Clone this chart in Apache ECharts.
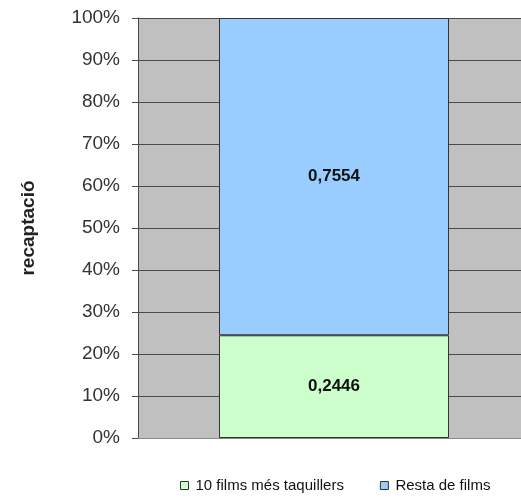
<!DOCTYPE html>
<html><head><meta charset="utf-8">
<script src="https://cdn.jsdelivr.net/npm/echarts@6/dist/echarts.min.js"></script>
<style>html,body{margin:0;padding:0;background:#fff}#c{width:521px;height:502px}</style>
</head><body><div id="c"></div>
<script>
const categories = [''];
const seriesNames = ['10 films més taquillers', 'Resta de films'];
const topFilms = [0.2446];
const restFilms = [0.7554];
const yTicks = [0, 0.1, 0.2, 0.3, 0.4, 0.5, 0.6, 0.7, 0.8, 0.9, 1];

const chart = echarts.init(document.getElementById('c'));
const lbl = {show: true, position: 'inside', color: '#111', fontWeight: 'bold', fontSize: 17,
  fontFamily: 'Arial, Liberation Sans', formatter: p => String(p.value).replace('.', ',')};
chart.setOption({
  animation: false,
  backgroundColor: '#fff',
  grid: {left: 138, top: 18, bottom: 64, width: 392, outerBoundsMode: 'none', containLabel: false,
    backgroundColor: '#C0C0C0', show: true, borderWidth: 0},
  legend: {
    bottom: 4, left: 175, itemWidth: 8, itemHeight: 8, itemGap: 36,
    textStyle: {fontSize: 15, color: '#111', fontFamily: 'Arial, Liberation Sans', padding: [0, 0, 0, 2]},
    data: seriesNames.map(n => ({name: n, icon: 'rect', itemStyle: {borderColor: '#333', borderWidth: 1}}))
  },
  xAxis: {type: 'category', data: categories, axisLine: {lineStyle: {color: '#888'}}, axisTick: {show: false}, axisLabel: {show: false}},
  yAxis: {
    type: 'value', min: 0, max: 1, interval: 0.1,
    name: 'recaptació', nameLocation: 'middle', nameGap: 100,
    nameTextStyle: {fontWeight: 'bold', fontSize: 19, color: '#222', fontFamily: 'Arial, Liberation Sans'},
    axisLine: {show: true, lineStyle: {color: '#4a4a4a'}},
    axisTick: {show: true, length: 6, lineStyle: {color: '#4a4a4a'}},
    splitLine: {lineStyle: {color: '#4a4a4a', width: 1}},
    axisLabel: {fontSize: 19, color: '#333', margin: 18, fontFamily: 'Arial, Liberation Sans',
      formatter: v => Math.round(v * 100) + '%'}
  },
  series: [
    {name: seriesNames[0], type: 'bar', stack: 's', data: topFilms, barWidth: 230,
     itemStyle: {color: '#CCFFCC', borderColor: '#333', borderWidth: 1}, label: lbl},
    {name: seriesNames[1], type: 'bar', stack: 's', data: restFilms, barWidth: 230,
     itemStyle: {color: '#99CCFF', borderColor: '#333', borderWidth: 1}, label: lbl}
  ]
});
</script></body></html>
